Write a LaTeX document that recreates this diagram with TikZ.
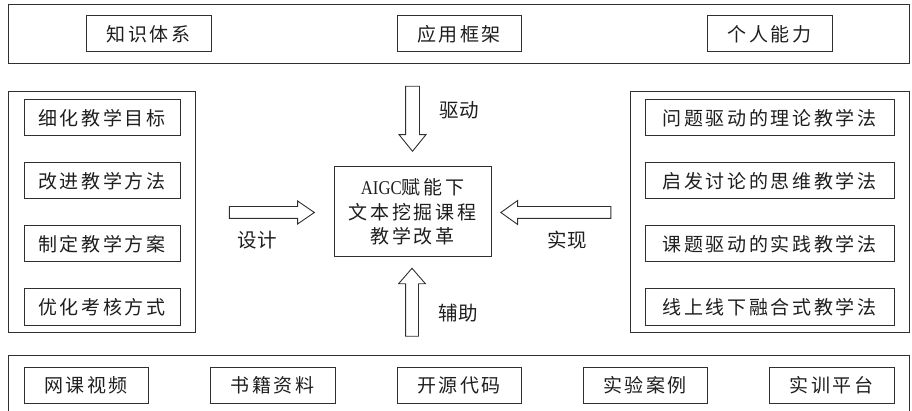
\documentclass[tikz,border=0pt]{standalone}
\usepackage{graphicx}
\usepackage{fontspec}
\setmainfont{Liberation Serif}
\newfontfamily\cjk{Noto Sans CJK SC}
\newfontfamily\cjksp[LetterSpace=14]{Noto Sans CJK SC}
\usetikzlibrary{shapes.arrows}
\definecolor{linec}{HTML}{303030}
\definecolor{textc}{HTML}{1E1E1E}
\begin{document}
\begin{tikzpicture}[x=1pt,y=-1pt,
  outerbox/.style={draw=linec, line width=1pt, inner sep=0pt},
  itembox/.style={draw=linec, line width=1pt, inner sep=0pt, minimum height=36pt,
    text=textc, font=\fontsize{19}{22}\cjksp},
  centerbox/.style={draw=linec, line width=1pt, inner sep=0pt, minimum width=157pt,
    minimum height=90pt, align=center, text=textc, font=\fontsize{19}{24.5}\cjksp},
  lbl/.style={inner sep=0pt, text=textc, font=\fontsize{19.5}{22}\cjk},
  blockarrow/.style={single arrow, draw=linec, line width=0.9pt, fill=white,
    inner xsep=0pt, text height=0pt, text depth=0pt, text width=0pt, outer sep=0pt}
]
\useasboundingbox (0,0) rectangle (912,411);
% outer frames
\node[outerbox, minimum width=901pt, minimum height=59pt] (topframe) at (458.5,34.5) {};
\node[outerbox, minimum width=187pt, minimum height=240pt] (leftframe) at (101.5,212) {};
\node[outerbox, minimum width=279pt, minimum height=240pt] (rightframe) at (769.5,212) {};
\node[outerbox, minimum width=901pt, minimum height=70pt] (bottomframe) at (458.5,390) {};
% top row
\node[itembox, minimum width=125pt] (t1) at (148.5,34) {知识体系};
\node[itembox, minimum width=124pt] (t2) at (459,34) {应用框架};
\node[itembox, minimum width=125pt] (t3) at (769.5,34) {个人能力};
% left column
\node[itembox, minimum width=156pt] (l1) at (102,118) {细化教学目标};
\node[itembox, minimum width=156pt] (l2) at (102,181) {改进教学方法};
\node[itembox, minimum width=156pt] (l3) at (102,244) {制定教学方案};
\node[itembox, minimum width=156pt] (l4) at (102,307) {优化考核方式};
% right column
\node[itembox, minimum width=249pt] (r1) at (769.5,118) {问题驱动的理论教学法};
\node[itembox, minimum width=249pt] (r2) at (769.5,181) {启发讨论的思维教学法};
\node[itembox, minimum width=249pt] (r3) at (769.5,244) {课题驱动的实践教学法};
\node[itembox, minimum width=249pt] (r4) at (769.5,307) {线上线下融合式教学法};
% bottom row
\node[itembox, minimum width=124pt] (b1) at (86,385) {网课视频};
\node[itembox, minimum width=125pt] (b2) at (272.5,385) {书籍资料};
\node[itembox, minimum width=124pt] (b3) at (459,385) {开源代码};
\node[itembox, minimum width=124pt] (b4) at (645,385) {实验案例};
\node[itembox, minimum width=125pt] (b5) at (831.5,385) {实训平台};
% centre
\node[centerbox] (core) at (412.5,212) {{\rmfamily\fontsize{19.5}{24.5}\selectfont\scalebox{0.86}[1]{AIGC}}赋能下\\文本挖掘课程\\教学改革};
% block arrows
\node[blockarrow, inner ysep=6.5pt, single arrow head extend=6.5pt,
  single arrow tip angle=78, minimum height=65pt, rotate=-90] (adrive) at (412.5,114.5) {};
\node[blockarrow, inner ysep=5.5pt, single arrow head extend=5.5pt,
  single arrow tip angle=69, minimum height=85pt] (adesign) at (267.5,212.5) {};
\node[blockarrow, inner ysep=5.5pt, single arrow head extend=6pt,
  single arrow tip angle=71, minimum height=110pt, rotate=180] (arealize) at (560,212.5) {};
\node[blockarrow, inner ysep=6pt, single arrow head extend=7pt,
  single arrow tip angle=82, minimum height=68pt, rotate=90] (aassist) at (412,306) {};
% labels
\node[lbl] (ldrive) at (459,110) {驱动};
\node[lbl] (ldesign) at (257,240) {设计};
\node[lbl] (lrealize) at (567,240) {实现};
\node[lbl] (lassist) at (458,313) {辅助};
\end{tikzpicture}
\end{document}
